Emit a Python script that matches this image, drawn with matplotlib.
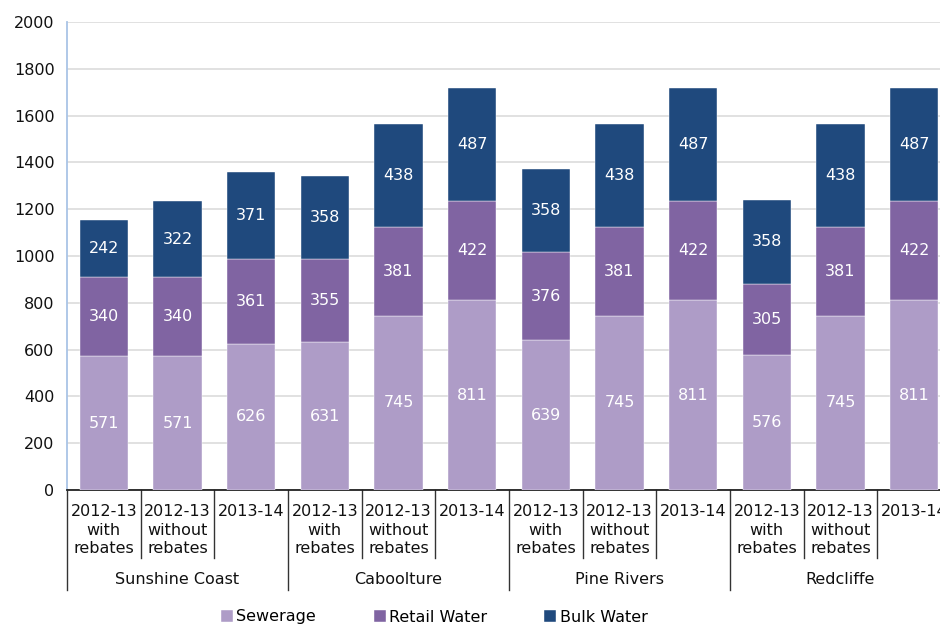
import matplotlib
matplotlib.use("Agg")
import matplotlib.pyplot as plt
from matplotlib.lines import Line2D
import numpy as np

plt.rcParams['font.family'] = ['DejaVu Sans']

councils = ["Sunshine Coast", "Caboolture", "Pine Rivers", "Redcliffe"]
periods = ["2012-13\nwith\nrebates", "2012-13\nwithout\nrebates", "2013-14"]
sewerage = [571, 571, 626, 631, 745, 811, 639, 745, 811, 576, 745, 811]
retail_water = [340, 340, 361, 355, 381, 422, 376, 381, 422, 305, 381, 422]
bulk_water = [242, 322, 371, 358, 438, 487, 358, 438, 487, 358, 438, 487]
series_names = ["Sewerage", "Retail Water", "Bulk Water"]
colors = ["#AE9CC7", "#8064A2", "#1F497D"]

W, H = 940, 624
fig = plt.figure(figsize=(W / 100, H / 100), dpi=100)
ax_left, ax_right, ax_top, ax_bottom = 67, 951, 22, 490
ax = fig.add_axes([ax_left / W, 1 - ax_bottom / H,
                   (ax_right - ax_left) / W, (ax_bottom - ax_top) / H])

n = len(sewerage)
x = np.arange(n)
bw = 0.66
bottom = np.zeros(n)
for vals, name, col in zip([sewerage, retail_water, bulk_water], series_names, colors):
    vals = np.array(vals, dtype=float)
    ax.bar(x, vals, bw, bottom=bottom, color=col, label=name,
           edgecolor="white", linewidth=0.3, zorder=3)
    for xi, b, v in zip(x, bottom, vals):
        ax.text(xi, b + v / 2, f"{int(v)}", ha="center", va="center",
                color="white", fontsize=11.5, zorder=4)
    bottom += vals

ax.set_xlim(-0.5, n - 0.5)
ax.set_ylim(0, 2000)
ax.set_yticks(np.arange(0, 2001, 200))
ax.tick_params(axis="y", length=0, pad=9, labelsize=11.5, colors="#111111")
ax.set_xticks([])
ax.yaxis.grid(True, color="#D9D9D9", linewidth=1.1, zorder=0)
ax.set_axisbelow(True)
for s in ["top", "right"]:
    ax.spines[s].set_visible(False)
ax.spines["left"].set_color("#A9C4E6")
ax.spines["left"].set_linewidth(1.3)
ax.spines["bottom"].set_color("#222222")
ax.spines["bottom"].set_linewidth(1.3)

# category labels and separators beneath the axis
px = 1 / (ax_bottom - ax_top)
trans = ax.get_xaxis_transform()
for i in range(n):
    ax.text(x[i], -14 * px, periods[i % 3], transform=trans, ha="center", va="top",
            fontsize=11.5, linespacing=1.3, color="#111111", clip_on=False)
for b in range(n + 1):
    is_group = b % 3 == 0
    y_end = -(100 if is_group else 68) * px
    ax.add_line(Line2D([b - 0.5, b - 0.5], [0, y_end], transform=trans,
                       color="#333333", linewidth=1.0, clip_on=False))
for g, name in enumerate(councils):
    ax.text(3 * g + 1, -90 * px, name, transform=trans, ha="center", va="center",
            fontsize=11.5, color="#111111", clip_on=False)

fig.legend(loc="center", bbox_to_anchor=(0.462, 1 - 617 / H), ncol=3, frameon=False,
           fontsize=11.5, handlelength=0.75, handleheight=0.75, handletextpad=0.2,
           columnspacing=3.6)

fig.savefig("out.png", dpi=100)
